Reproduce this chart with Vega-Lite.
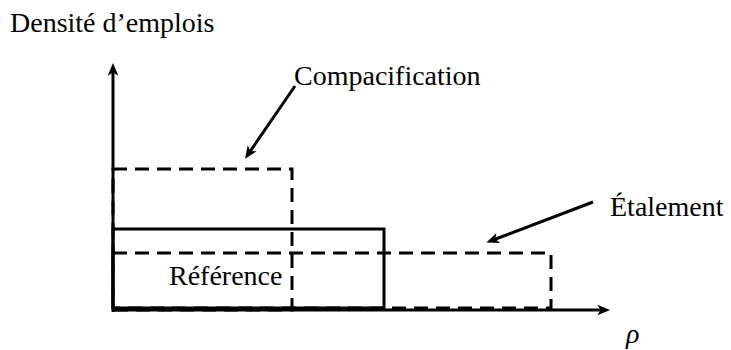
{
  "$schema": "https://vega.github.io/schema/vega-lite/v6.json",
  "width": 731,
  "height": 350,
  "autosize": {"type": "fit", "contains": "padding"},
  "padding": 0,
  "background": "white",
  "config": {"view": {"stroke": null}},
  "datasets": {
    "rects": [
      {"name": "Compacification", "x0": 0, "x1": 179, "y0": 0, "y1": 141, "style": "dashed"},
      {"name": "Étalement", "x0": 0, "x1": 438, "y0": 2, "y1": 57, "style": "dashed"},
      {"name": "Référence", "x0": 0, "x1": 271, "y0": 2, "y1": 81, "style": "solid"}
    ],
    "segments": [
      {"name": "axe y", "x0": 0, "y0": -2, "x1": 0, "y1": 240},
      {"name": "axe x", "x0": -1, "y0": 0, "x1": 490, "y1": 0},
      {"name": "flèche compacification", "x0": 182, "y0": 224, "x1": 136, "y1": 157},
      {"name": "flèche étalement", "x0": 480, "y0": 108, "x1": 380, "y1": 70}
    ],
    "heads": [
      {"name": "axe y", "x": 0, "y": 240, "angle": 0},
      {"name": "axe x", "x": 490, "y": 0, "angle": 90},
      {"name": "flèche compacification", "x": 136, "y": 157, "angle": 214},
      {"name": "flèche étalement", "x": 380, "y": 70, "angle": 249}
    ],
    "labels": [
      {"text": "Densité d’emplois", "x": -103, "y": 278, "style": "normal"},
      {"text": "Compacification", "x": 181, "y": 225, "style": "normal"},
      {"text": "Étalement", "x": 497, "y": 94, "style": "normal"},
      {"text": "Référence", "x": 56, "y": 25, "style": "normal"},
      {"text": "ρ", "x": 513, "y": -33, "style": "italic"}
    ]
  },
  "encoding": {
    "x": {"type": "quantitative", "scale": {"domain": [-113, 618], "nice": false, "zero": false}, "axis": null},
    "y": {"type": "quantitative", "scale": {"domain": [-40, 310], "nice": false, "zero": false}, "axis": null}
  },
  "layer": [
    {
      "data": {"name": "rects"},
      "transform": [{"filter": "datum.style === 'dashed'"}],
      "mark": {"type": "rect", "fill": null, "fillOpacity": 0, "stroke": "black", "strokeWidth": 3, "strokeDash": [14, 8]},
      "encoding": {
        "x": {"field": "x0", "type": "quantitative"},
        "x2": {"field": "x1"},
        "y": {"field": "y0", "type": "quantitative"},
        "y2": {"field": "y1"}
      }
    },
    {
      "data": {"name": "rects"},
      "transform": [{"filter": "datum.style === 'solid'"}],
      "mark": {"type": "rect", "fill": null, "fillOpacity": 0, "stroke": "black", "strokeWidth": 3},
      "encoding": {
        "x": {"field": "x0", "type": "quantitative"},
        "x2": {"field": "x1"},
        "y": {"field": "y0", "type": "quantitative"},
        "y2": {"field": "y1"}
      }
    },
    {
      "data": {"name": "segments"},
      "mark": {"type": "rule", "color": "black", "strokeWidth": 3},
      "encoding": {
        "x": {"field": "x0", "type": "quantitative"},
        "y": {"field": "y0", "type": "quantitative"},
        "x2": {"field": "x1"},
        "y2": {"field": "y1"}
      }
    },
    {
      "data": {"name": "heads"},
      "mark": {
        "type": "point",
        "filled": true,
        "color": "black",
        "opacity": 1,
        "size": 200,
        "shape": "M0,-1 L0.75,0.8 L0,0.35 L-0.75,0.8 Z"
      },
      "encoding": {
        "x": {"field": "x", "type": "quantitative"},
        "y": {"field": "y", "type": "quantitative"},
        "angle": {"field": "angle", "type": "quantitative", "scale": null}
      }
    },
    {
      "data": {"name": "labels"},
      "transform": [{"filter": "datum.style === 'normal'"}],
      "mark": {"type": "text", "font": "Liberation Serif", "fontSize": 28, "align": "left", "baseline": "alphabetic", "color": "black"},
      "encoding": {
        "x": {"field": "x", "type": "quantitative"},
        "y": {"field": "y", "type": "quantitative"},
        "text": {"field": "text", "type": "nominal"}
      }
    },
    {
      "data": {"name": "labels"},
      "transform": [{"filter": "datum.style === 'italic'"}],
      "mark": {"type": "text", "font": "Liberation Serif", "fontStyle": "italic", "fontSize": 28, "align": "left", "baseline": "alphabetic", "color": "black"},
      "encoding": {
        "x": {"field": "x", "type": "quantitative"},
        "y": {"field": "y", "type": "quantitative"},
        "text": {"field": "text", "type": "nominal"}
      }
    }
  ]
}
